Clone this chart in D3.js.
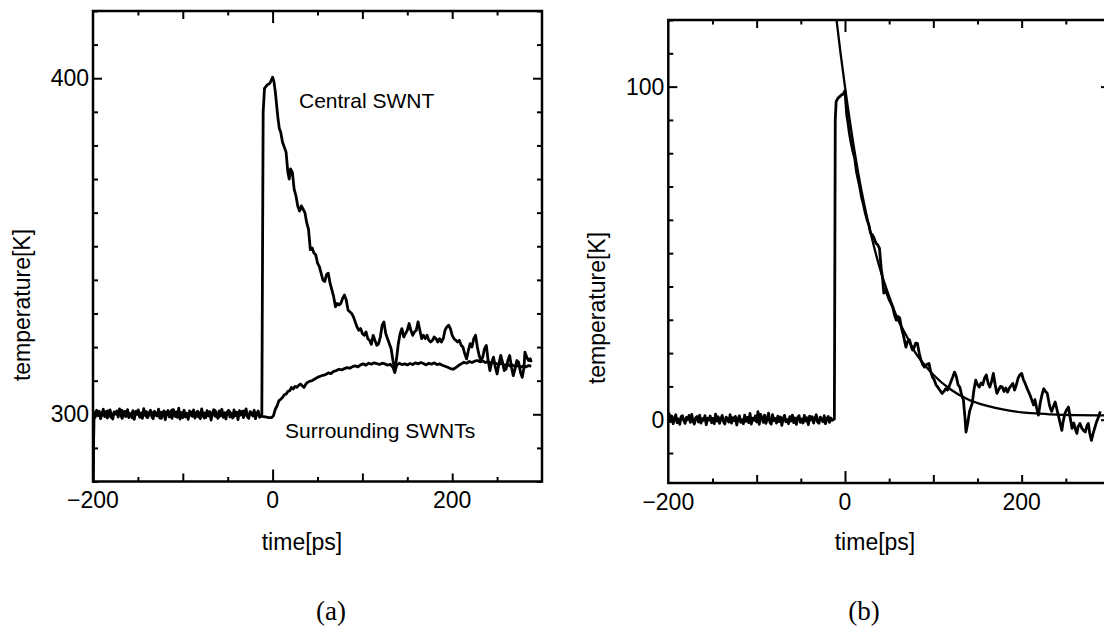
<!DOCTYPE html>
<html>
<head>
<meta charset="utf-8">
<script src="https://cdn.jsdelivr.net/npm/d3@7"></script>
<style>
    body { margin: 0; background: #fff; }
    svg { display: block; }
    text { font-family: "Liberation Sans", Arial, sans-serif; fill: #000; }
    text.caption { font-family: "Liberation Serif", "Times New Roman", serif; }
</style>
</head>
<body>
<svg id="chart" width="1104" height="634"></svg>
<script>
// ---- data: [time ps, temperature K] ----
const TIME_DOMAIN = [-200, 300];
const TEMP_DOMAIN_A = [280, 420];
const TEMP_DOMAIN_B = [-19, 120];

const X_LABELS = [-200, 0, 200];
const Y_LABELS_A = [300, 400];
const Y_LABELS_B = [0, 100];

// equilibrium noise before the heat pulse, sampled every 1.5 ps from -199 ps
const BASE_T0 = -199;
const BASE_DT = 1.5;
const centralBaseline = [
    300.6, 299.1, 301.2, 299.6, 300.9, 298.7, 300.3, 301.5, 299.3, 300.2, 298.9, 300.8, 301.3, 299.5,
    298.6, 300.7, 300.1, 301.0, 299.2, 301.6, 299.7, 298.8, 300.5, 300.9, 299.4, 301.4, 299.0, 300.2,
    299.6, 301.1, 298.5, 300.6, 300.0, 301.3, 299.1, 300.4, 298.8, 301.7, 299.8, 300.8, 299.0, 300.3,
    301.2, 299.3, 298.7, 300.9, 300.2, 299.5, 301.5, 298.9, 300.6, 299.7, 301.0, 298.4, 300.4, 301.1,
    299.2, 300.1, 298.8, 301.4, 299.6, 300.7, 299.1, 301.8, 298.6, 300.5, 299.9, 301.2, 299.2, 300.3,
    298.5, 301.0, 300.6, 299.4, 301.3, 298.9, 300.2, 300.9, 299.3, 298.7, 301.6, 299.8, 300.4, 299.0,
    301.1, 299.5, 300.8, 298.3, 300.3, 301.4, 299.4, 300.0, 298.8, 301.0, 299.7, 301.5, 299.1, 300.5,
    298.6, 300.7, 301.2, 299.2, 300.2, 298.9, 301.3, 299.6, 300.6, 298.4, 301.1, 299.9, 300.9, 299.0,
    300.4, 301.6, 299.3, 298.8, 300.8, 300.1, 299.5, 301.2, 298.7, 300.3, 301.0, 299.1
];
const riseBaseline = [
    1.8, -0.6, 1.1, -1.2, 0.4, 1.5, -0.9, 0.2, -1.4, 0.9, 1.2, -0.3, -1.1, 0.7, 0.0, 1.3, -0.8, 1.6,
    -0.5, -1.3, 0.6, 1.0, -0.7, 1.4, -1.0, 0.3, -0.2, 1.2, -1.5, 0.5, -0.1, 1.1, -0.9, 0.4, -1.2, 1.7,
    -0.4, 0.9, -1.1, 0.2, 1.3, -0.6, -1.3, 0.8, 0.1, -0.7, 1.5, -1.0, 0.6, -0.3, 1.0, -1.6, 0.3, 1.2,
    -0.8, 0.0, -1.2, 1.4, -0.5, 0.7, -0.9, 1.9, -1.3, 0.5, -0.2, 1.1, -0.7, 2.4, -1.4, 1.6, 0.6, -0.8,
    1.4, -1.1, 0.2, 2.0, -0.8, -1.3, 1.5, -0.3, 0.4, -1.0, 1.1, -0.6, 0.8, -1.7, 0.3, 1.3, -0.6, 0.1,
    -1.2, 0.9, -0.4, 1.4, -0.9, 0.5, -1.4, 0.7, 1.2, -0.8, 0.2, -1.0, 1.3, -0.4, 0.6, -1.5, 1.1, -0.1,
    0.9, -1.0, 0.4, 1.5, -0.7, -1.1, 0.8, 0.1, -0.6, 1.2, -1.2, 0.3, 1.0, -0.8, 0.5, -0.2
];

const centralDecay = [
    [-12, 300.0], [-10.5, 390], [-9, 397], [-6, 398], [-3, 398.5], [0, 400.3], [1.5, 399],
    [3, 396], [4.5, 392], [6, 388], [7.5, 385], [9, 384], [11, 381], [13, 379.5], [15, 378], [17, 372],
    [18.5, 370], [20, 373], [22, 372], [24, 367], [26, 365], [28, 362], [30, 360.5], [32, 362], [34, 361],
    [36, 360], [38, 357], [40, 355], [42, 349], [44, 349.5], [46, 348], [48, 347.5], [50, 345], [52, 344],
    [54, 342], [56, 340], [58, 339.5], [60, 341.5], [62, 342], [64, 339], [66, 337], [68, 335], [70, 332],
    [72, 333], [74, 332.5], [76, 333], [78, 334.5], [80, 335.5], [82, 334], [84, 331], [86, 330.5],
    [88, 330], [90, 329], [92, 327.5], [94, 326], [96, 325], [98, 325.5], [100, 324], [102, 323.5],
    [104, 324.5], [106, 322.5], [108, 322], [110, 320.8], [112, 323.5], [114, 322], [116, 320.5],
    [118, 321], [120, 323], [122, 326.5], [124, 327.5], [126, 324], [128, 322.5], [130, 321], [132, 319.5],
    [134, 316], [136, 313], [138, 316.5], [140, 321], [142, 324], [144, 325.5], [146, 323], [148, 324],
    [150, 325], [152, 327], [154, 325], [156, 323.5], [158, 324.5], [160, 325], [162, 327.5], [164, 325],
    [166, 322.5], [168, 323.5], [170, 322.5], [172, 323.5], [174, 322], [176, 321.5], [178, 322],
    [180, 323], [182, 322.5], [184, 321.5], [186, 322.5], [188, 321.5], [190, 322.5], [192, 325],
    [194, 326], [196, 326.5], [198, 325.5], [200, 323.5], [202, 322.5], [204, 322], [206, 321.5],
    [208, 322], [210, 320.5], [212, 320], [214, 318], [216, 316.5], [218, 319], [220, 321], [222, 320],
    [224, 322.5], [226, 323.5], [228, 320], [230, 317.5], [232, 316], [234, 317], [236, 319.5],
    [238, 320.5], [240, 316], [242, 313], [244, 315.5], [246, 317], [248, 314], [250, 312], [252, 315],
    [254, 317.5], [256, 315.5], [258, 313], [260, 313.5], [262, 316], [264, 317.5], [266, 314],
    [268, 311.5], [270, 313.5], [272, 316], [274, 315.5], [276, 312.5], [278, 311], [280, 314],
    [281, 318.5], [283, 317], [285, 316], [287, 316.5], [288, 315.5]
];

const surrounding = [
    [-200, 276], [-199, 299.6], [-196, 300.6], [-192, 299.3], [-188, 300.2], [-184, 301.0], [-180, 299.1],
    [-176, 300.5], [-172, 299.8], [-168, 301.2], [-164, 299.4], [-160, 300.3], [-156, 298.9], [-152, 300.9],
    [-148, 299.5], [-144, 300.4], [-140, 299.2], [-136, 301.0], [-132, 299.6], [-128, 300.1], [-124, 298.8],
    [-120, 300.6], [-116, 299.9], [-112, 301.3], [-108, 299.3], [-104, 300.5], [-100, 299.0], [-96, 300.2],
    [-92, 299.7], [-88, 301.0], [-84, 299.4], [-80, 300.7], [-76, 298.9], [-72, 300.3], [-68, 299.6],
    [-64, 301.1], [-60, 299.2], [-56, 300.0], [-52, 299.5], [-48, 300.8], [-44, 299.1], [-40, 300.4],
    [-36, 299.8], [-32, 301.0], [-28, 299.3], [-24, 300.6], [-20, 299.5], [-16, 300.2], [-12, 299.4],
    [-8, 299.2], [-4, 299.0], [-1, 299.0], [1, 299.6], [3, 301.5], [5, 302.5], [7, 304], [9, 304.5],
    [11, 305], [13, 305.8], [15, 306], [17, 306.8], [19, 307], [21, 308], [23, 307.5], [25, 308.3],
    [27, 308], [29, 308.6], [31, 309], [33, 308.5], [35, 308], [37, 309], [39, 309.5], [41, 309.8],
    [44, 310], [47, 310.5], [50, 311], [53, 311.3], [56, 311.6], [59, 311.8], [62, 312.3], [65, 312.1],
    [68, 312.8], [71, 313], [74, 313.4], [77, 313.2], [80, 313.6], [83, 313.9], [86, 313.7], [89, 314.2],
    [92, 314.4], [95, 314.1], [98, 314.7], [101, 315], [104, 314.6], [107, 315.2], [110, 314.9],
    [113, 315.3], [116, 315.1], [119, 314.8], [122, 315.2], [125, 315], [128, 314.6], [131, 314.9],
    [134, 314], [136, 312.4], [138, 314.5], [141, 315.2], [144, 314.8], [147, 315], [150, 314.7],
    [153, 315.1], [156, 314.8], [159, 315.3], [162, 315], [165, 315.4], [168, 315.1], [171, 314.7],
    [174, 315.2], [177, 314.9], [180, 315.3], [183, 314.8], [186, 315], [189, 314.6], [192, 314.3],
    [195, 314], [198, 313.6], [201, 313.4], [204, 313.9], [207, 314.5], [210, 315], [213, 315.5],
    [216, 315.2], [219, 315.7], [222, 315.4], [225, 315.8], [228, 316], [231, 315.6], [234, 315.9],
    [237, 315.4], [240, 315.7], [243, 315.2], [246, 315.5], [249, 315.1], [252, 314.8], [255, 315.2],
    [258, 314.6], [261, 314.9], [264, 314.4], [267, 314.7], [270, 314.2], [273, 314.5], [276, 314],
    [279, 314.4], [282, 314.1], [285, 314.5], [288, 314.3]
];

// panel (b): temperature rise of the central tube after the pulse
const riseDecay = [
    [-12, 0.2], [-11, 90], [-10, 95.5],
    [-8, 96.5], [-6, 97], [-4, 97.5], [-2, 97.8], [0, 98.8], [1, 95], [2, 91.5], [3.5, 89], [5, 86],
    [7, 83], [9, 80.5], [11, 78.5], [13, 74.5], [15, 72], [17, 69.5], [19, 66.5], [21, 64.5], [23, 62],
    [25, 60], [27, 58.5], [29, 56], [31, 55.5], [33, 54.5], [35, 53], [37, 52.5], [39, 51.5], [41, 45.5],
    [42.5, 42.5], [44, 38], [46, 39], [48, 37.5], [50, 36], [52, 35], [54, 33.8], [56, 31.5], [58, 29.9],
    [60, 31], [62, 30.5], [64, 27.5], [66, 25.5], [68, 23], [69, 21.8], [71, 23.5], [73, 24], [75, 22],
    [76.5, 20.9], [78, 21.5], [80, 23], [82, 22.9], [84, 20], [86, 17.9], [88, 16.5], [90, 15.8],
    [92, 16.5], [95, 16.9], [97, 14.5], [99, 12.8], [101, 12], [103, 10.5], [105, 9.8], [107, 9],
    [110, 7.9], [112, 8.5], [114, 9.3], [116, 8.9], [118, 10], [120, 11.5], [122, 12.8], [124, 14.3],
    [126, 13], [128, 10.5], [130, 9.8], [132, 7.5], [134, 6], [136, 0], [137, -3.7], [139, -1], [141, 2.5],
    [144, 4.9], [146, 9], [148, 11.9], [150, 10.5], [152, 9.8], [154, 11], [156, 10.5], [158, 12.5],
    [160, 13.4], [162, 11], [164, 9.8], [166, 11.5], [168, 13.9], [170, 10.5], [172, 7.9], [174, 9],
    [176, 10], [178, 9.8], [180, 8.5], [182, 9.5], [184, 8.3], [186, 9.5], [188, 10.2], [190, 10.9],
    [192, 8.9], [194, 10.5], [196, 12.5], [198, 13.5], [200, 13.9], [202, 12], [204, 10.9], [206, 9.5],
    [208, 8.3], [210, 7], [212, 5.5], [213.5, 4.4], [215, 6], [217, 3.5], [219, 1.4], [221, 5], [223, 7.5],
    [225, 9.3], [227, 8.5], [229, 7.9], [231, 5], [232, 3.8], [234, 2.5], [236, 4], [238, 5.3], [240, 3],
    [242, 0.8], [244, -1.5], [245.5, -3.2], [247, -0.5], [249, 1.9], [251, 3], [253, 3.8], [255, 0.5],
    [257, -2.6], [259, -1], [261, -3], [262.5, -4.1], [264, -2], [266, -1.1], [268, -2.5], [270, -3.2],
    [272, -3.7], [274, -1.8], [275.5, -1.1], [277, -4], [279, -6.2], [281, -4], [283, -2.2], [285, -0.5],
    [287, 0.8], [289, 2.5]
];

// exponential fit drawn over panel (b)
const fit = [
    [-13, 128], [-10, 121], [-5, 110], [0, 100], [10, 82], [20, 67], [30, 55], [40, 45], [50, 37],
    [60, 30], [70, 25], [80, 20], [90, 16.5], [100, 13.5], [120, 9], [140, 6], [160, 4.2], [180, 3],
    [200, 2.2], [220, 1.8], [240, 1.5], [260, 1.4], [300, 1.3]
];

const withBaseline = (start, baseline, rest) =>
    [start].concat(baseline.map((v, i) => [BASE_T0 + i * BASE_DT, v]), rest);

const central = withBaseline([-200, 276], centralBaseline, centralDecay);
const rise = withBaseline([-200, 0.5], riseBaseline, riseDecay);

// ---- layout ----
const svg = d3.select("#chart");
const FONT = 23;

const panels = [
    {
        id: "a", left: 93, right: 542, top: 11, bottom: 481.5,
        yDomain: TEMP_DOMAIN_A, yLabels: Y_LABELS_A, yStep: 10,
        ylabelX: 30, ylabelY: 305, xlabelX: 302, caption: "(a)", captionX: 331,
        lines: [{ data: central, width: 2.8 }, { data: surrounding, width: 2.8 }],
        notes: [{ text: "Central SWNT", x: 299, y: 108 }, { text: "Surrounding SWNTs", x: 285, y: 438 }]
    },
    {
        id: "b", left: 668.3, right: 1110, top: 20, bottom: 483,
        yDomain: TEMP_DOMAIN_B, yLabels: Y_LABELS_B, yStep: 10,
        ylabelX: 605, ylabelY: 308, xlabelX: 875, caption: "(b)", captionX: 864,
        lines: [{ data: rise, width: 2.8 }, { data: fit, width: 2.3, smooth: true }],
        notes: []
    }
];

const tickAxis = (axisFn, scale, values, size, pos, horizontal) => (sel) => {
    const g = sel.append("g")
        .attr("transform", horizontal ? `translate(0,${pos})` : `translate(${pos},0)`)
        .call(axisFn(scale).tickValues(values).tickSize(size).tickFormat(""));
    g.select(".domain").remove();
    g.selectAll("line").attr("stroke", "#000").attr("stroke-width", 2);
};

panels.forEach((p) => {
    const x = d3.scaleLinear().domain(TIME_DOMAIN).range([p.left, p.right]);
    const y = d3.scaleLinear().domain(p.yDomain).range([p.bottom, p.top]);
    const g = svg.append("g").attr("class", "panel-" + p.id);

    g.append("clipPath").attr("id", "clip-" + p.id)
        .append("rect")
        .attr("x", p.left).attr("y", p.top)
        .attr("width", p.right - p.left).attr("height", p.bottom - p.top);

    const plot = g.append("g").attr("clip-path", `url(#clip-${p.id})`);
    p.lines.forEach((ln) => {
        const line = d3.line()
            .x((d) => x(d[0]))
            .y((d) => y(d[1]))
            .curve(ln.smooth ? d3.curveMonotoneX : d3.curveLinear);
        plot.append("path")
            .datum(ln.data)
            .attr("d", line)
            .attr("fill", "none")
            .attr("stroke", "#000")
            .attr("stroke-width", ln.width)
            .attr("stroke-linejoin", "round");
    });

    // ticks on all four sides, pointing inwards
    const xZero = [0];
    const xHundreds = [-100, 100, 200];
    const xFifties = [-150, -50, 50, 150, 250];
    [[d3.axisTop, p.bottom], [d3.axisBottom, p.top]].forEach(([fn, pos]) => {
        g.call(tickAxis(fn, x, xZero, 12, pos, true));
        g.call(tickAxis(fn, x, xHundreds, 8, pos, true));
        g.call(tickAxis(fn, x, xFifties, 4.5, pos, true));
    });

    const yMinor = d3.range(p.yDomain[0], p.yDomain[1] + 1, 1)
        .filter((v) => v % p.yStep === 0 && !p.yLabels.includes(v));
    [[d3.axisRight, p.left], [d3.axisLeft, p.right]].forEach(([fn, pos]) => {
        g.call(tickAxis(fn, y, p.yLabels, 9, pos, false));
        g.call(tickAxis(fn, y, yMinor, 5, pos, false));
    });

    g.append("rect")
        .attr("x", p.left).attr("y", p.top)
        .attr("width", p.right - p.left).attr("height", p.bottom - p.top)
        .attr("fill", "none").attr("stroke", "#000").attr("stroke-width", 2.5);

    // tick labels
    g.selectAll("text.xtick")
        .data(X_LABELS)
        .join("text")
        .attr("class", "xtick")
        .attr("x", (d) => x(d))
        .attr("y", p.bottom + 26.5)
        .attr("text-anchor", "middle")
        .style("font-size", FONT + "px")
        .text((d) => (d < 0 ? "\u2212" + Math.abs(d) : d));

    g.selectAll("text.ytick")
        .data(p.yLabels)
        .join("text")
        .attr("class", "ytick")
        .attr("x", p.left - 4)
        .attr("y", (d) => y(d) + 8)
        .attr("text-anchor", "end")
        .style("font-size", FONT + "px")
        .text((d) => d);

    g.append("text")
        .attr("x", p.xlabelX).attr("y", 550)
        .attr("text-anchor", "middle")
        .style("font-size", FONT + "px")
        .text("time[ps]");

    g.append("text")
        .attr("transform", `translate(${p.ylabelX},${p.ylabelY}) rotate(-90)`)
        .attr("text-anchor", "middle")
        .style("font-size", FONT + "px")
        .text("temperature[K]");

    g.append("text")
        .attr("class", "caption")
        .attr("x", p.captionX).attr("y", 620)
        .attr("text-anchor", "middle")
        .style("font-size", "27px")
        .text(p.caption);

    p.notes.forEach((n) => {
        g.append("text")
            .attr("x", n.x).attr("y", n.y)
            .style("font-size", "21px")
            .text(n.text);
    });
});
</script>
</body>
</html>
